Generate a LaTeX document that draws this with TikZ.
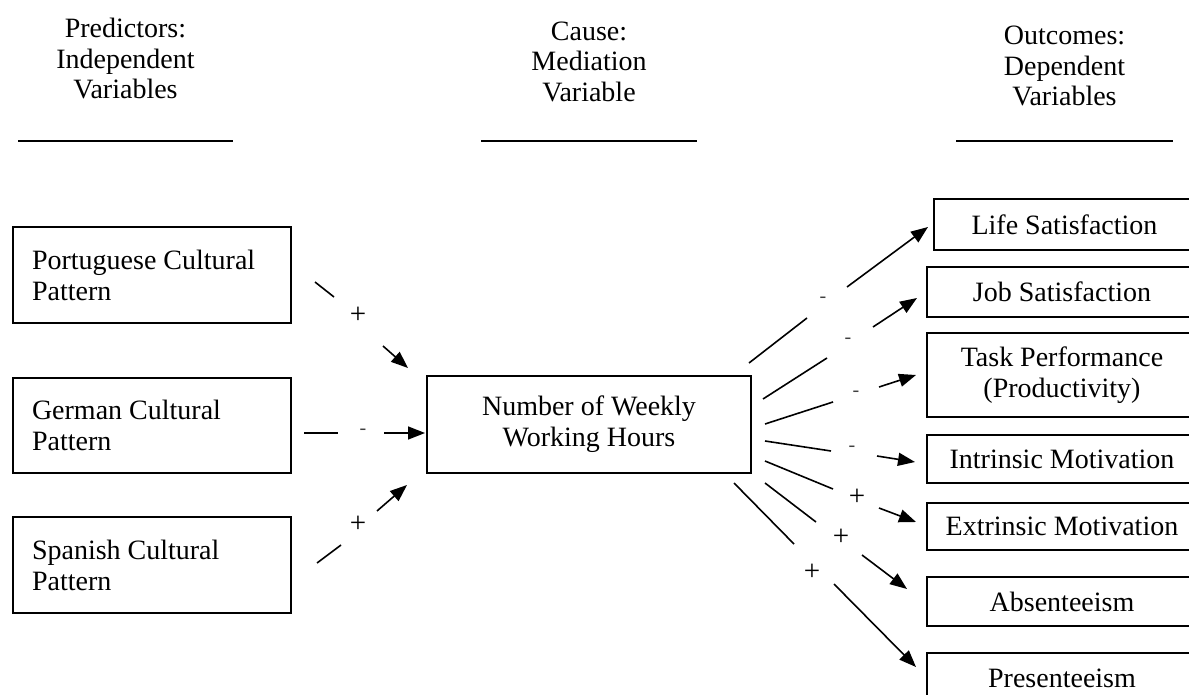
\documentclass[tikz,border=0pt]{standalone}
\usepackage{fontspec}
\setmainfont{Liberation Serif}
\usetikzlibrary{arrows.meta}
\begin{document}
\begin{tikzpicture}[x=1pt,y=-1pt,
  box/.style={draw, line width=1.5pt, inner sep=0pt, font=\fontsize{28}{31}\selectfont},
  lbox/.style={box, minimum width=278pt, text width=240pt, align=flush left, inner xsep=19pt},
  rbox/.style={box, align=center},
  hdr/.style={align=center, font=\fontsize{28}{30.5}\selectfont, inner sep=0pt, anchor=north},
  hrule/.style={line width=2.2pt},
  conn/.style={line width=1.6pt},
  arr/.style={conn, -{Triangle[length=17pt,width=13pt]}},
  sgn/.style={font=\fontsize{29}{29}\selectfont, inner sep=0pt},
  msgn/.style={font=\fontsize{20}{20}\selectfont, inner sep=0pt, text=black!75}
]
\clip (0,0) rectangle (1189,695);
\fill[white] (0,0) rectangle (1189,695);

% headers
\node[hdr] (h1) at (125.5,18) {Predictors:\\Independent\\Variables};
\node[hdr] (h2) at (589,21.5) {Cause:\\Mediation\\Variable};
\node[hdr] (h3) at (1064.5,26) {Outcomes:\\Dependent\\Variables};
\coordinate (r1a) at (18,141); \coordinate (r1b) at (233,141);
\coordinate (r2a) at (481,141); \coordinate (r2b) at (697,141);
\coordinate (r3a) at (956,141); \coordinate (r3b) at (1173,141);
\draw[hrule] (r1a) -- (r1b);
\draw[hrule] (r2a) -- (r2b);
\draw[hrule] (r3a) -- (r3b);

% predictor boxes
\node[lbox, minimum height=96pt] (por) at (152,275) {Portuguese Cultural\\Pattern};
\node[lbox, minimum height=95pt] (ger) at (152,425.5) {German Cultural\\Pattern};
\node[lbox, minimum height=96pt] (spa) at (152,565) {Spanish Cultural\\Pattern};

% mediator
\node[rbox, minimum width=324pt, minimum height=97pt] (med) at (589,424.5) {Number of Weekly\\Working Hours};

% outcomes
\node[rbox, minimum width=261pt, minimum height=51pt] (life) at (1064.5,224.5) {Life Satisfaction};
\node[rbox, minimum width=270pt, minimum height=50pt] (job) at (1062,292) {Job Satisfaction};
\node[rbox, minimum width=270pt, minimum height=84pt] (task) at (1062,375) {Task Performance\\(Productivity)};
\node[rbox, minimum width=270pt, minimum height=48pt] (intr) at (1062,459) {Intrinsic Motivation};
\node[rbox, minimum width=270pt, minimum height=47pt] (extr) at (1062,526.5) {Extrinsic Motivation};
\node[rbox, minimum width=270pt, minimum height=49pt] (abs) at (1062,601.5) {Absenteeism};
\node[rbox, minimum width=270pt, minimum height=51pt] (pres) at (1062,678.5) {Presenteeism};

% left connectors
\coordinate (pa) at (315,282); \coordinate (pb) at (334,297);
\coordinate (pc) at (383,346); \coordinate (pd) at (408,368);
\draw[conn] (pa) -- (pb);
\node[sgn] (ps) at (358,315) {+};
\draw[arr] (pc) -- (pd);

\coordinate (ga) at (304,433); \coordinate (gb) at (338,433);
\coordinate (gc) at (384,433); \coordinate (gd) at (425,433);
\draw[conn] (ga) -- (gb);
\node[msgn] (gs) at (363,432) {-};
\draw[arr] (gc) -- (gd);

\coordinate (sa) at (317,563); \coordinate (sb) at (341,545);
\coordinate (sc) at (377,511); \coordinate (sd) at (407,485);
\draw[conn] (sa) -- (sb);
\node[sgn] (ss) at (358,524) {+};
\draw[arr] (sc) -- (sd);

% right connectors
\coordinate (la) at (749,363); \coordinate (lb) at (807,318);
\coordinate (lc) at (847,287); \coordinate (ld) at (928,227);
\draw[conn] (la) -- (lb);
\node[msgn] (ls) at (823,300) {-};
\draw[arr] (lc) -- (ld);

\coordinate (ja) at (763,399); \coordinate (jb) at (827,358);
\coordinate (jc) at (873,327); \coordinate (jd) at (917,298);
\draw[conn] (ja) -- (jb);
\node[msgn] (js) at (848,341) {-};
\draw[arr] (jc) -- (jd);

\coordinate (ta) at (765,424); \coordinate (tb) at (833,402);
\coordinate (tc) at (879,387); \coordinate (td) at (916,375);
\draw[conn] (ta) -- (tb);
\node[msgn] (ts) at (856,394) {-};
\draw[arr] (tc) -- (td);

\coordinate (ia) at (765,441); \coordinate (ib) at (831,451);
\coordinate (ic) at (877,456); \coordinate (id) at (915,462);
\draw[conn] (ia) -- (ib);
\node[msgn] (is) at (852,449) {-};
\draw[arr] (ic) -- (id);

\coordinate (ea) at (765,461); \coordinate (eb) at (833,489);
\coordinate (ec) at (879,508); \coordinate (ed) at (916,522);
\draw[conn] (ea) -- (eb);
\node[sgn] (es) at (857,497) {+};
\draw[arr] (ec) -- (ed);

\coordinate (aa) at (765,483); \coordinate (ab) at (816,522);
\coordinate (ac) at (862,555); \coordinate (ad) at (907,589);
\draw[conn] (aa) -- (ab);
\node[sgn] (as) at (841,537) {+};
\draw[arr] (ac) -- (ad);

\coordinate (ra) at (734,483); \coordinate (rb) at (794,544);
\coordinate (rc) at (834,584); \coordinate (rd) at (916,667);
\draw[conn] (ra) -- (rb);
\node[sgn] (rs) at (812,572) {+};
\draw[arr] (rc) -- (rd);
\end{tikzpicture}
\end{document}
